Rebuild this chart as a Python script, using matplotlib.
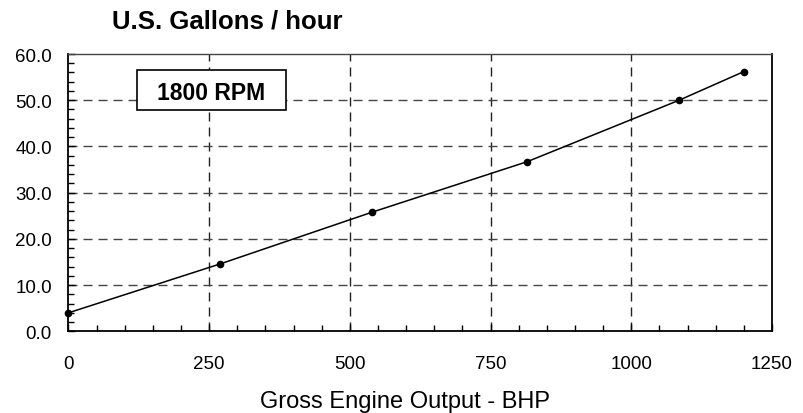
import matplotlib
matplotlib.use("Agg")
import matplotlib.pyplot as plt
from matplotlib.ticker import MultipleLocator, FormatStrFormatter
from matplotlib.patches import Rectangle

bhp = [0, 270, 540, 815, 1085, 1200]
gph = [4.0, 14.6, 25.8, 36.7, 50.0, 56.2]
title = "U.S. Gallons / hour"
xlabel = "Gross Engine Output - BHP"
box_label = "1800 RPM"

plt.rcParams['font.family'] = ['Liberation Sans', 'DejaVu Sans']

fig = plt.figure(figsize=(8.04, 4.14), dpi=100)
ax = fig.add_axes([68.5/804, 1-332.3/414, (772-68.5)/804, (332.3-55)/414])

ax.set_xlim(0, 1250)
ax.set_ylim(0, 60)
ax.xaxis.set_major_locator(MultipleLocator(250))
ax.xaxis.set_minor_locator(MultipleLocator(50))
ax.yaxis.set_major_locator(MultipleLocator(10))
ax.yaxis.set_minor_locator(MultipleLocator(2))
ax.yaxis.set_major_formatter(FormatStrFormatter('%.1f'))

for v in [250, 500, 750, 1000]:
    ax.axvline(v, color='#222222', lw=1.0, ls=(0, (6.5, 4.3)), zorder=1)
for v in [10, 20, 30, 40, 50]:
    ax.axhline(v, color='#444444', lw=1.0, ls=(0, (6.5, 4.3)), zorder=1)

ax.plot(bhp, gph, color='black', lw=1.1, marker='o', markersize=4.5, zorder=3, clip_on=False)

ax.tick_params(axis='both', which='both', direction='in', labelsize=13.5, color='black')
ax.tick_params(axis='both', which='major', length=5, width=1)
ax.tick_params(axis='both', which='minor', length=4, width=1)
ax.tick_params(axis='x', which='major', pad=17)
ax.tick_params(axis='y', which='major', pad=12)
for s in ax.spines.values():
    s.set_linewidth(1.3)
    s.set_color('black')
ax.spines['top'].set_color('#444444')
ax.spines['top'].set_linewidth(1.0)

x0 = (136.7-68.5)/703.5
x1 = (285.7-68.5)/703.5
y1 = (332.3-70.7)/277.3
y0 = (332.3-111)/277.3
ax.add_patch(Rectangle((x0, y0), x1-x0, y1-y0, transform=ax.transAxes,
                       facecolor='white', edgecolor='black', lw=1.2, zorder=4))
ax.text((x0+x1)/2, (y0+y1)/2, box_label, transform=ax.transAxes, ha='center',
        va='center_baseline', fontsize=16.5, fontweight='bold', zorder=5)

fig.text(112/804, 1-28.5/414, title, ha='left', va='baseline', fontsize=18.5, fontweight='bold')
fig.text(405.5/804, 1-408.3/414, xlabel, ha='center', va='baseline', fontsize=17)

fig.savefig('out.png', dpi=100)
